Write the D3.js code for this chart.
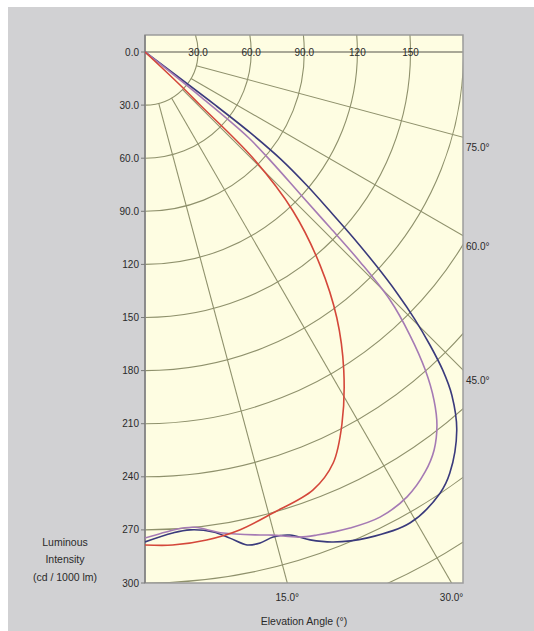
<!DOCTYPE html>
<html>
<head>
<meta charset="utf-8">
<script src="https://cdn.jsdelivr.net/npm/d3@7"></script>
<style>
  body { margin: 0; background: #ffffff; }
  text { font-family: "Liberation Sans", Arial, sans-serif; fill: #2a2a2a; }
</style>
</head>
<body>
<div id="chart"></div>
<script>

// ----- dane -----

// wartosci na osi pionowej (natezenie, cd / 1000 lm)
var intensityTicks = [0, 30, 60, 90, 120, 150, 180, 210, 240, 270, 300];
var intensityLabels = ["0.0", "30.0", "60.0", "90.0", "120", "150", "180", "210", "240", "270", "300"];

// wartosci na gornej krawedzi
var topTicks = [30, 60, 90, 120, 150];
var topLabels = ["30.0", "60.0", "90.0", "120", "150"];

// okregi siatki
var rings = [30, 60, 90, 120, 150, 180, 210, 240, 270, 300, 330];

// promienie siatki (kat od pionu w dol)
var bottomAngles = [15, 30];
var bottomAngleLabels = ["15.0°", "30.0°"];
var sideAngles = [45, 60, 75];
var sideAngleLabels = ["45.0°", "60.0°", "75.0°"];

// krzywe: [kat, natezenie]
var navyCurve = [[0, 276.8], [3.3, 272.2], [5.4, 271.2], [8.1, 273.9], [9.9, 278.8], [11.7, 284.4],
  [13.2, 284.9], [14.8, 283.4], [16.7, 284.9], [18.7, 291], [21, 296.5], [24.6, 301.9],
  [29.4, 305.3], [33.8, 299.8], [35.9, 293.7], [39.5, 276.9], [41.8, 260.1], [43.1, 246.2],
  [44.2, 230.9], [45.3, 214.1], [46.3, 196.6], [47.3, 177.1], [48.3, 157.3], [49.3, 137.8],
  [50.5, 118.4], [51.7, 97.9], [52.5, 74.9], [52.9, 49.6], [53, 0]];

var purpleCurve = [[0, 274.6], [3.4, 270.5], [4.6, 269.8], [6, 270], [9.2, 275.3], [13.4, 280.5],
  [14.8, 282.3], [17.7, 287.7], [19.6, 289.7], [23.3, 292.8], [26.8, 294.4], [30.5, 291.7],
  [33.7, 285.2], [36, 277.9], [38.05, 267.6], [39.7, 255.6], [41.4, 239.4], [43.1, 219],
  [44.65, 197], [45.7, 169.8], [46.5, 144.3], [47.5, 119.2], [48.9, 96.6], [50.4, 76],
  [51.2, 39.8], [51.4, 0]];

var redCurve = [[0, 278.5], [3.2, 279], [7.2, 277.9], [11.2, 275.3], [15.5, 270.3], [21, 265],
  [24.6, 255.4], [27.9, 237.8], [32, 211.9], [35.8, 185.3], [39.4, 155.8], [42.95, 122.7],
  [45.5, 85.5], [46.1, 43.2], [46.7, 27.2], [47, 0]];

var curves = [
  {name: "navy", color: "#3a3a7c", data: navyCurve},
  {name: "purple", color: "#a57ab4", data: purpleCurve},
  {name: "red", color: "#d4473a", data: redCurve}
];


/***** obszar rysowania *****/

var W = 534, H = 631;

// srodek wykresu biegunowego i ramka
var ox = 145, oy = 52;
var plotLeft = 145, plotTop = 35, plotRight = 463, plotBottom = 583;

var r = d3.scaleLinear().domain([0, 300]).range([0, plotBottom - oy]);

// punkt dla kata (od pionu) i natezenia
function pt(angle, value) {
  var t = angle * Math.PI / 180;
  return [ox + r(value) * Math.sin(t), oy + r(value) * Math.cos(t)];
}

var svg = d3.select("#chart")
  .append("svg")
  .attr("width", W)
  .attr("height", H);

// tlo
svg.append("rect").attr("x", 0).attr("y", 0).attr("width", W).attr("height", H).attr("fill", "#ffffff");
svg.append("rect").attr("x", 8).attr("y", 7).attr("width", W - 8).attr("height", H - 7).attr("fill", "#d1d1d3");

svg.append("clipPath").attr("id", "clip")
  .append("rect")
  .attr("x", plotLeft).attr("y", plotTop)
  .attr("width", plotRight - plotLeft).attr("height", plotBottom - plotTop);

svg.append("rect")
  .attr("x", plotLeft).attr("y", plotTop)
  .attr("width", plotRight - plotLeft).attr("height", plotBottom - plotTop)
  .attr("fill", "#fefde2");

var grid = svg.append("g").attr("clip-path", "url(#clip)");

// okregi
grid.selectAll(".ring")
  .data(rings)
  .enter()
  .append("path")
  .attr("d", function(d) {
    var p = d3.path();
    p.moveTo(ox, oy + r(d));
    p.arc(ox, oy, r(d), Math.PI / 2, -Math.PI / 2, true);
    return p.toString();
  })
  .attr("fill", "none")
  .attr("stroke", "#8f916c")
  .attr("stroke-width", 1.1);

// promienie (od okregu 30)
grid.selectAll(".spoke")
  .data(bottomAngles.concat(sideAngles))
  .enter()
  .append("line")
  .attr("x1", function(d) { return pt(d, 30)[0]; })
  .attr("y1", function(d) { return pt(d, 30)[1]; })
  .attr("x2", function(d) { return pt(d, 450)[0]; })
  .attr("y2", function(d) { return pt(d, 450)[1]; })
  .attr("stroke", "#8f916c")
  .attr("stroke-width", 1.1);

// linia pozioma (90 stopni)
svg.append("line")
  .attr("x1", pt(90, 0)[0]).attr("y1", pt(90, 0)[1])
  .attr("x2", plotRight).attr("y2", pt(90, 0)[1])
  .attr("stroke", "#55554a")
  .attr("stroke-width", 1.2);

// ramka
svg.append("rect")
  .attr("x", plotLeft).attr("y", plotTop)
  .attr("width", plotRight - plotLeft).attr("height", plotBottom - plotTop)
  .attr("fill", "none")
  .attr("stroke", "#9c9c9c")
  .attr("stroke-width", 1.5);

svg.append("line")
  .attr("x1", plotLeft).attr("y1", plotTop)
  .attr("x2", plotLeft).attr("y2", plotBottom)
  .attr("stroke", "#7a7a7a")
  .attr("stroke-width", 1.3);

// krzywe
var line = d3.line()
  .x(function(d) { return pt(d[0], d[1])[0]; })
  .y(function(d) { return pt(d[0], d[1])[1]; })
  .curve(d3.curveCatmullRom);

svg.append("g").attr("clip-path", "url(#clip)")
  .selectAll(".curve")
  .data(curves)
  .enter()
  .append("path")
  .attr("d", function(d) { return line(d.data); })
  .attr("fill", "none")
  .attr("stroke", function(d) { return d.color; })
  .attr("stroke-width", 1.6);


// ----- opisy osi -----

// os pionowa
var yAxis = svg.append("g");
yAxis.selectAll("line")
  .data(intensityTicks)
  .enter()
  .append("line")
  .attr("x1", plotLeft - 4).attr("x2", plotLeft)
  .attr("y1", function(d) { return oy + r(d); })
  .attr("y2", function(d) { return oy + r(d); })
  .attr("stroke", "#7a7a7a");

yAxis.selectAll("text")
  .data(intensityTicks)
  .enter()
  .append("text")
  .attr("x", plotLeft - 6)
  .attr("y", function(d) { return oy + r(d) + 3.5; })
  .attr("text-anchor", "end")
  .style("font-size", "10px")
  .text(function(d, i) { return intensityLabels[i]; });

// gorne etykiety
svg.append("g").selectAll("text")
  .data(topTicks)
  .enter()
  .append("text")
  .attr("x", function(d) { return ox + r(d); })
  .attr("y", oy + 3.5)
  .attr("text-anchor", "middle")
  .style("font-size", "10px")
  .text(function(d, i) { return topLabels[i]; });

// katy na dole
svg.append("g").selectAll("text")
  .data(bottomAngles)
  .enter()
  .append("text")
  .attr("x", function(d) { return ox + (plotBottom - oy) * Math.tan(d * Math.PI / 180); })
  .attr("y", plotBottom + 18)
  .attr("text-anchor", "middle")
  .style("font-size", "10px")
  .text(function(d, i) { return bottomAngleLabels[i]; });

// katy z prawej
svg.append("g").selectAll("text")
  .data(sideAngles)
  .enter()
  .append("text")
  .attr("x", plotRight + 3)
  .attr("y", function(d) { return oy + (plotRight - ox) / Math.tan(d * Math.PI / 180) + 14; })
  .attr("text-anchor", "start")
  .style("font-size", "10px")
  .text(function(d, i) { return sideAngleLabels[i]; });

// tytuly osi
svg.append("text")
  .attr("x", 304)
  .attr("y", 625)
  .attr("text-anchor", "middle")
  .style("font-size", "10.5px")
  .text("Elevation Angle (°)");

var yTitle = svg.append("text")
  .attr("x", 65)
  .attr("y", 546)
  .attr("text-anchor", "middle")
  .style("font-size", "10.5px");

yTitle.append("tspan").attr("x", 65).attr("dy", 0).text("Luminous");
yTitle.append("tspan").attr("x", 65).attr("dy", "1.65em").text("Intensity");
yTitle.append("tspan").attr("x", 65).attr("dy", "1.65em").text("(cd / 1000 lm)");

</script>
</body>
</html>
